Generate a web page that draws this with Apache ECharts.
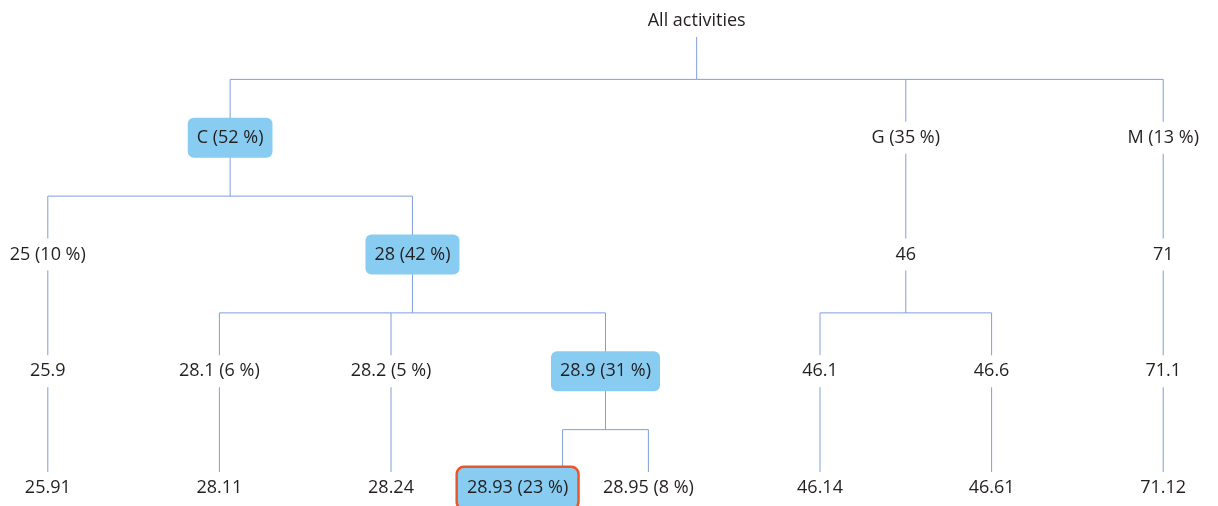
<!DOCTYPE html>
<html>
<head>
<meta charset="utf-8">
<script src="https://cdn.jsdelivr.net/npm/echarts@6/dist/echarts.min.js"></script>
<style>
  html, body { margin: 0; padding: 0; background: #ffffff; }
  #chart { width: 1218px; height: 506px; }
</style>
</head>
<body>
<div id="chart"></div>
<script>
// Node codes, shares (%) and parent index of every node of the classification tree
const nodeCodes   = ['All activities', 'C', 'G', 'M', '25', '28', '46', '71',
                     '25.9', '28.1', '28.2', '28.9', '46.1', '46.6', '71.1',
                     '25.91', '28.11', '28.24', '28.93', '28.95', '46.14', '46.61', '71.12'];
const nodeShares  = [null, 52, 35, 13, 10, 42, null, null,
                     null, 6, 5, 31, null, null, null,
                     null, null, null, 23, 8, null, null, null];
const nodeParents = [-1, 0, 0, 0, 1, 1, 2, 3,
                     4, 5, 5, 5, 6, 6, 7,
                     8, 9, 10, 11, 11, 12, 13, 14];
const highlightedCodes = ['C', '28', '28.9', '28.93'];
const selectedCode = '28.93';

const plainLabel = {
  backgroundColor: '#ffffff',
  padding: [7, 5]
};
const highlightLabel = {
  backgroundColor: '#88cdf1',
  borderRadius: 6,
  padding: [11, 9]
};
const selectedLabel = {
  backgroundColor: '#88cdf1',
  borderRadius: 6,
  borderColor: '#e8572a',
  borderWidth: 2.5,
  padding: [11, 9],
  offset: [-45, 0]
};

const items = nodeCodes.map(function (code, i) {
  const share = nodeShares[i];
  const name = share == null ? code : code + ' (' + share + ' %)';
  let label = plainLabel;
  if (code === selectedCode) label = selectedLabel;
  else if (highlightedCodes.indexOf(code) >= 0) label = highlightLabel;
  return { name: name, label: label, children: [] };
});
let treeRoot = null;
nodeParents.forEach(function (p, i) {
  if (p < 0) treeRoot = items[i];
  else items[p].children.push(items[i]);
});

const chart = echarts.init(document.getElementById('chart'));
chart.setOption({
  animation: false,
  series: [{
    type: 'tree',
    data: [treeRoot],
    orient: 'TB',
    left: -38,
    right: -31,
    top: 21,
    bottom: 18,
    edgeShape: 'polyline',
    edgeForkPosition: '50%',
    expandAndCollapse: false,
    initialTreeDepth: -1,
    roam: false,
    symbol: 'rect',
    symbolSize: 1,
    itemStyle: { color: 'rgba(0,0,0,0)', borderWidth: 0 },
    lineStyle: { color: '#7f9edb', width: 1, curveness: 0 },
    label: {
      show: true,
      position: 'inside',
      align: 'center',
      verticalAlign: 'middle',
      fontFamily: 'Open Sans',
      fontSize: 18,
      color: '#231f20'
    },
    emphasis: { disabled: true }
  }]
});
</script>
</body>
</html>
